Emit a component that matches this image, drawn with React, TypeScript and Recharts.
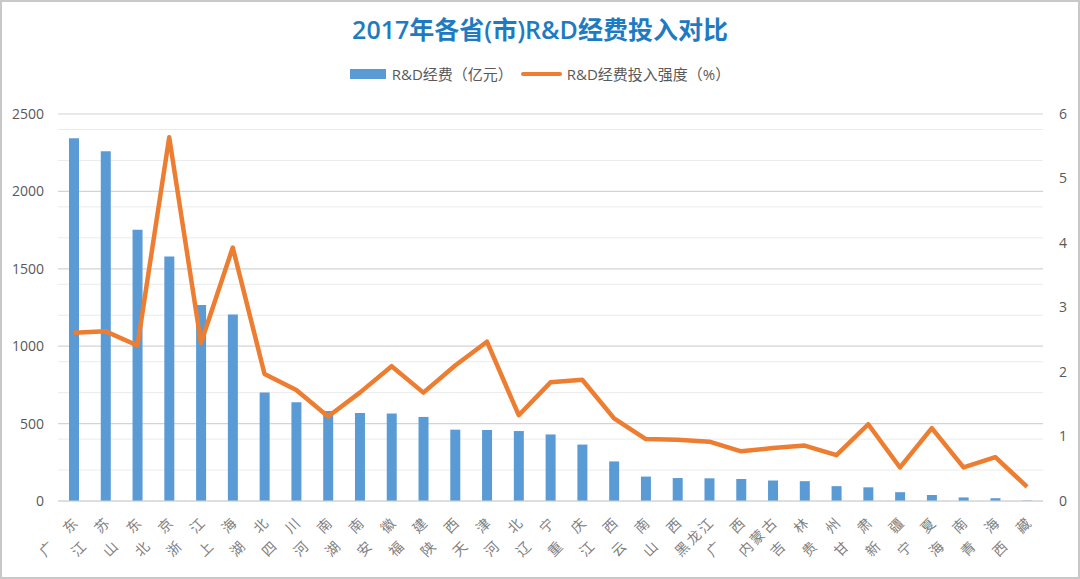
import React from 'react';
import { ComposedChart, Bar, Line, XAxis, YAxis, CartesianGrid } from 'recharts';

const provinces = ['广　东','江　苏','山　东','北　京','浙　江','上　海','湖　北','四　川','河　南','湖　南','安　徽','福　建','陕　西','天　津','河　北','辽　宁','重　庆','江　西','云　南','山　西','黑龙江','广　西','内蒙古','吉　林','贵　州','甘　肃','新　疆','宁　夏','海　南','青　海','西　藏'];
const funding = [2343.6,2260.1,1753.0,1579.7,1266.3,1205.2,700.6,637.8,582.1,568.5,564.9,543.1,460.9,458.7,452.0,429.9,364.6,255.8,157.8,148.2,146.6,142.2,132.3,128.0,95.9,88.4,57.0,38.9,23.1,17.9,2.9];
const intensity = [2.61,2.63,2.41,5.64,2.45,3.93,1.97,1.72,1.31,1.68,2.09,1.68,2.10,2.47,1.33,1.84,1.88,1.28,0.96,0.95,0.92,0.77,0.82,0.86,0.71,1.19,0.52,1.13,0.52,0.68,0.22];
const leftTicks = [0,500,1000,1500,2000,2500];
const rightTicks = [0,1,2,3,4,5,6];
const minorTicks = [100,200,300,400,600,700,800,900,1100,1200,1300,1400,1600,1700,1800,1900,2100,2200,2300,2400];

const data = provinces.map((p, i) => ({ name: p, funding: funding[i], intensity: intensity[i] }));

const FONT = '"Open Sans", "Noto Sans CJK SC", sans-serif';

const XTick = (props: any) => {
  const { x, y, payload } = props;
  return (
    <g transform={`translate(${x + 3},${y + 10})`}>
      <text textAnchor="end" transform="rotate(-45)" fontSize={14} fill="#808080" fontFamily={FONT} dy="0.35em" style={{ letterSpacing: '2.5px' }}>
        {payload.value}
      </text>
    </g>
  );
};

export default function App() {
  return (
    <div style={{ position: 'absolute', left: 0, top: 0, width: 1080, height: 579, background: '#fff' }}>
      <div style={{ position: 'absolute', left: 0, top: 10, width: 1080, textAlign: 'center', fontFamily: FONT, fontSize: 25, fontWeight: 600, color: '#1F7BC1' }}>
        2017年各省(市)R&amp;D经费投入对比
      </div>
      <div style={{ position: 'absolute', left: 0, top: 63, width: 1080, display: 'flex', justifyContent: 'center', alignItems: 'center', fontFamily: FONT, fontSize: 15, color: '#595959' }}>
        <span style={{ display: 'inline-block', width: 36, height: 10, background: '#5B9BD5', marginRight: 6 }} />
        <span style={{ marginRight: 8 }}>R&amp;D经费（亿元）</span>
        <span style={{ display: 'inline-block', width: 41, height: 4, borderRadius: 2, background: '#ED7D31', marginRight: 5 }} />
        <span>R&amp;D经费投入强度（%）</span>
      </div>
      <ComposedChart width={1080} height={579} data={data} margin={{ top: 114, right: 0, bottom: 0, left: 0 }}>
        <CartesianGrid yAxisId="left" vertical={false} horizontalValues={minorTicks} stroke="#ebebeb" strokeWidth={1} />
        <CartesianGrid yAxisId="left" vertical={false} horizontalValues={leftTicks} stroke="#d4d4d4" strokeWidth={1.2} />
        <XAxis dataKey="name" interval={0} height={78} tickLine={false} axisLine={{ stroke: '#d4d4d4' }} tick={<XTick />} />
        <YAxis yAxisId="left" domain={[0, 2500]} ticks={leftTicks} width={58} axisLine={false} tickLine={false} tick={{ fontSize: 14, fill: '#595959', fontFamily: FONT }} tickMargin={8} />
        <YAxis yAxisId="right" orientation="right" domain={[0, 6]} ticks={rightTicks} width={37} axisLine={false} tickLine={false} tick={{ fontSize: 14, fill: '#595959', fontFamily: FONT }} tickMargin={10} />
        <Bar yAxisId="left" dataKey="funding" fill="#5B9BD5" barSize={10} isAnimationActive={false} />
        <Line yAxisId="right" dataKey="intensity" stroke="#ED7D31" strokeWidth={4.5} dot={false} isAnimationActive={false} strokeLinejoin="round" />
      </ComposedChart>
      <div style={{ position: 'absolute', left: 0, top: 0, width: 1080, height: 579, boxSizing: 'border-box', border: '2px solid #c8c8c8', pointerEvents: 'none' }} />
    </div>
  );
}
